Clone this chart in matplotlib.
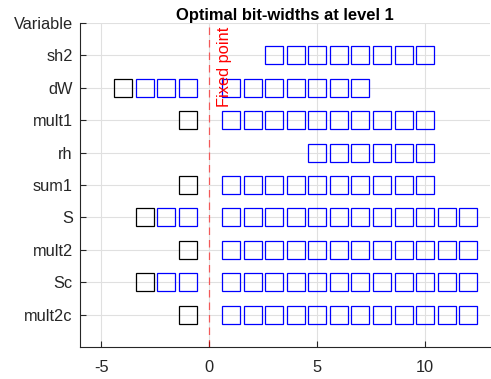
import numpy as np
import matplotlib.pyplot as plt

plt.rcParams['font.family'] = ['Liberation Sans', 'DejaVu Sans']
plt.rcParams['axes.unicode_minus'] = False

# variables from bottom to top, with the range of bit positions each one uses
variables = ['mult2c', 'Sc', 'mult2', 'S', 'sum1', 'rh', 'mult1', 'dW', 'sh2']
msb = [-1, -3, -1, -3, -1, 5, -1, -4, 3]
lsb = [12, 12, 12, 12, 10, 10, 10, 7, 10]
signed = [True, True, True, True, True, False, True, True, False]

fig = plt.figure(figsize=(4.91, 3.79), dpi=100)
ax = fig.add_axes([0.1625, 0.0844, 0.8355, 0.855])

axis_col = '#262626'
for i, name in enumerate(variables):
    y = i + 1
    pos = np.array([p for p in range(msb[i], lsb[i] + 1) if p != 0])
    cols = ['blue'] * len(pos)
    if signed[i]:
        cols[0] = 'black'
    for p, c in zip(pos, cols):
        ax.plot(p, y, 's', ms=12.6, mfc='none', mec=c, mew=0.9)

ax.axvline(0, color='red', alpha=0.6, lw=0.9, ls=(0, (6, 4)))
ax.text(0.68, 9.87, 'Fixed point', rotation=90, color='red', fontsize=11.8,
        ha='center', va='top')

ax.set_xlim(-6, 13)
ax.set_ylim(0, 10)
ax.set_xticks([-5, 0, 5, 10])
ax.set_yticks(range(1, 11))
ax.set_yticklabels(variables + ['Variable'])
ax.grid(True, color='#e0e0e0', lw=0.8)
ax.set_axisbelow(True)
ax.spines['top'].set_visible(False)
ax.spines['right'].set_visible(False)
for s in ['left', 'bottom']:
    ax.spines[s].set_color(axis_col)
    ax.spines[s].set_linewidth(0.8)
ax.tick_params(direction='in', length=4, colors=axis_col, labelsize=11.8,
               width=0.8)
ax.tick_params(axis='x', pad=9)
ax.tick_params(axis='y', pad=5)
ax.set_title('Optimal bit-widths at level 1', fontsize=11.9, fontweight='bold',
             pad=1)

fig.savefig('out.png', dpi=100)
